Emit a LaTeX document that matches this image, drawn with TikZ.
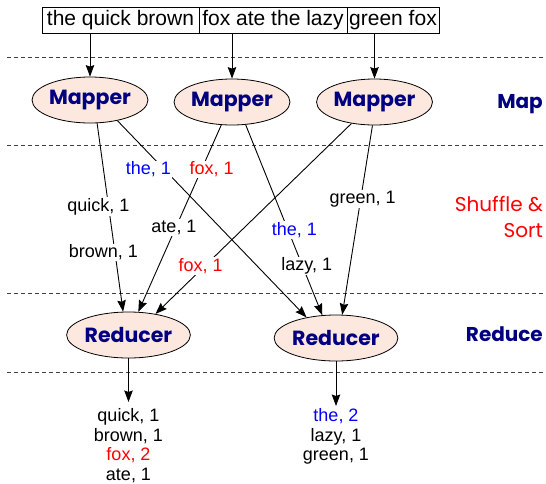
\documentclass[tikz,border=0pt]{standalone}
\usepackage{fontspec}
\setmainfont{Liberation Sans}
\newfontfamily\handfont{Poppins}
\usetikzlibrary{arrows.meta,shapes.geometric}
\definecolor{navyink}{RGB}{0,0,128}
\definecolor{workfill}{RGB}{252,232,222}
\definecolor{keyblue}{RGB}{0,0,255}
\definecolor{keyred}{RGB}{255,0,0}

\begin{document}
\begin{tikzpicture}[x=1pt,y=-1pt,
  arr/.style={-{Stealth[length=11.5pt,width=8.5pt,inset=1.5pt]}, line width=0.9pt},
  sepline/.style={dash pattern=on 4pt off 3pt, line width=0.9pt, black!75},
  worker/.style={ellipse, draw, line width=0.8pt, fill=workfill,
    minimum width=115pt, minimum height=46pt, inner sep=0pt,
    font=\handfont\bfseries\fontsize{20.5}{24}\selectfont, text=navyink},
  chunk/.style={draw, line width=0.8pt, font=\fontsize{21}{25}\selectfont,
    text height=15pt, text depth=5pt, inner xsep=0pt, inner ysep=3pt},
  pair/.style={fill=white, inner sep=1pt, font=\fontsize{18}{20}\selectfont},
  phase/.style={anchor=base east, inner sep=0pt, font=\handfont\fontsize{20}{24}\selectfont},
  phasebold/.style={phase, font=\handfont\bfseries\fontsize{20}{24}\selectfont, text=navyink},
  result/.style={align=center, anchor=north, inner xsep=2pt,
    font=\fontsize{18}{19.5}\selectfont}
]
\useasboundingbox (0,0) rectangle (546,483);

% phase separators
\draw[sepline] (7,57) -- (543,57);
\draw[sepline] (7,145) -- (543,145);
\draw[sepline] (7,293) -- (543,293);
\draw[sepline] (7,372) -- (543,372);

% input splits
\node[chunk, minimum width=157pt] (b1) at (120.5,20) {the quick brown};
\node[chunk, minimum width=148pt] (b2) at (273,20) {fox ate the lazy};
\node[chunk, minimum width=92pt] (b3) at (393,20) {green fox};

% workers
\node[worker] (m1) at (90,100) {Mapper};
\node[worker] (m2) at (232,102) {Mapper};
\node[worker] (m3) at (374.5,102) {Mapper};
\node[worker] (r1) at (128.5,335) {Reducer};
\node[worker] (r2) at (336,338) {Reducer};

% splits to mappers
\draw[arr] (m1 |- b1.south) -- (m1);
\draw[arr] (m2 |- b2.south) -- (m2);
\draw[arr] (m3 |- b3.south) -- (m3);

% shuffle
\draw[arr] (m1.-73) -- (r1.103);
\draw[arr] (m1.-37) -- (r2.145);
\draw[arr] (m2.-115) -- (r1.67);
\draw[arr] (m2.-59) -- (r2.121);
\draw[arr] (m3.-137) -- (r1.38);
\draw[arr] (m3.-95) -- (r2.75);

% intermediate pairs
\node[pair] (k1) at (98.3,206.7) {quick, 1};
\node[pair] (k2) at (103.3,252.3) {brown, 1};
\node[pair, text=keyblue] (k3) at (148.3,169.3) {the, 1};
\node[pair, text=keyred] (k4) at (211.7,169.3) {fox, 1};
\node[pair] (k5) at (174,227.3) {ate, 1};
\node[pair, text=keyred] (k6) at (200.7,266) {fox, 1};
\node[pair, text=keyblue] (k7) at (294.3,230) {the, 1};
\node[pair] (k8) at (306.7,266) {lazy, 1};
\node[pair] (k9) at (362.7,199.3) {green, 1};

% reducer outputs
\node[result, inner ysep=6.7pt] (o1) at (128.5,402)
  {quick, 1\\brown, 1\\\textcolor{keyred}{fox, 2}\\ate, 1};
\node[result, inner ysep=2.7pt] (o2) at (336,406)
  {\textcolor{keyblue}{the, 2}\\lazy, 1\\green, 1};
\draw[arr] (r1) -- (r1 |- o1.north);
\draw[arr] (r2) -- (r2 |- o2.north);

% phase names
\node[phasebold] (pmap) at (543,108) {Map};
\node[phase, text=keyred] (pshuf) at (543,211.7) {Shuffle \&};
\node[phase, text=keyred] (psort) at (543,237.7) {Sort};
\node[phasebold] (pred) at (543,341) {Reduce};
\end{tikzpicture}
\end{document}
